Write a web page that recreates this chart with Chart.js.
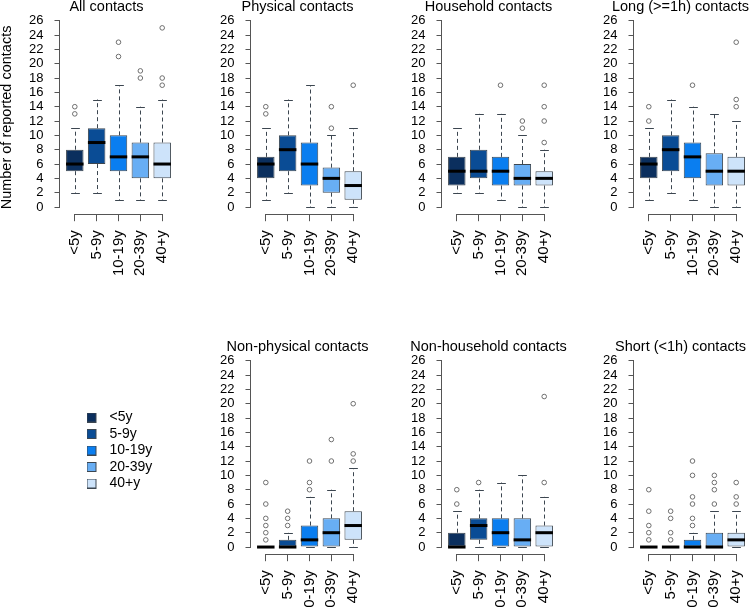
<!DOCTYPE html>
<html>
<head>
<meta charset="utf-8">
<script src="https://cdn.jsdelivr.net/npm/chart.js@4/dist/chart.umd.min.js"></script>
<style>
body{margin:0;width:750px;height:607px;overflow:hidden;background:#fff;position:relative}
canvas{position:absolute}
</style>
</head>
<body>
<canvas id="p1" width="213" height="290" style="left:0;top:0"></canvas>
<canvas id="p2" width="213" height="290" style="left:191px;top:0"></canvas>
<canvas id="p3" width="213" height="290" style="left:382px;top:0"></canvas>
<canvas id="p4" width="213" height="290" style="left:574px;top:0"></canvas>
<canvas id="p5" width="213" height="267" style="left:191px;top:340px"></canvas>
<canvas id="p6" width="213" height="267" style="left:382px;top:340px"></canvas>
<canvas id="p7" width="213" height="267" style="left:574px;top:340px"></canvas>
<canvas id="leg" width="240" height="95" style="left:84px;top:408px"></canvas>
<script>
var ageGroups = ["<5y", "5-9y", "10-19y", "20-39y", "40+y"];
var ageColors = ["#0b2f5e", "#0a4c95", "#0a7ef0", "#68aef4", "#cde3fa"];
var yTicks = [0, 2, 4, 6, 8, 10, 12, 14, 16, 18, 20, 22, 24, 26];

// [lower whisker, Q1, median, Q3, upper whisker] for each age group
var allStats = [[2, 5, 6, 8, 11], [2, 6, 9, 11, 15], [1, 5, 7, 10, 17], [1, 4, 7, 9, 14], [1, 4, 6, 9, 15]];
var allOut = [[13, 14], [], [21, 23], [18, 19], [17, 18, 25]];

var physStats = [[1, 4, 6, 7, 11], [2, 5, 8, 10, 15], [0, 3, 6, 9, 17], [0, 2, 4, 5.5, 10], [0, 1, 3, 5, 11]];
var physOut = [[13, 14], [], [], [11, 14], [17]];

var hhStats = [[2, 3, 5, 7, 11], [2, 4, 5, 8, 13], [1, 3, 5, 7, 13], [0, 3, 4, 6, 10], [0, 3, 4, 5, 8]];
var hhOut = [[], [], [17], [11, 12], [9, 12, 14, 17]];

var longStats = [[1, 4, 6, 7, 11], [2, 5, 8, 10, 15], [1, 4, 7, 9, 14], [0, 3, 5, 7.5, 13], [0, 3, 5, 7, 12]];
var longOut = [[12, 14], [], [17], [], [14, 15, 23]];

var nonPhysStats = [[0, 0, 0, 0, 0], [0, 0, 0, 1, 2], [0, 0, 1, 3, 7], [0, 0, 2, 4, 8], [0, 1, 3, 5, 11]];
var nonPhysOut = [[1, 2, 3, 4, 6, 9], [3, 4, 5], [8, 9, 12], [12, 15], [12, 13, 20]];

var nonHhStats = [[0, 0, 0, 2, 5], [0, 1, 3, 4, 8], [0, 0, 2, 4, 9], [0, 0, 1, 4, 10], [0, 0, 2, 3, 7]];
var nonHhOut = [[6, 8], [9], [], [], [9, 21]];

var shortStats = [[0, 0, 0, 0, 0], [0, 0, 0, 0, 0], [0, 0, 0, 1, 2], [0, 0, 0, 2, 5], [0, 0, 1, 2, 5]];
var shortOut = [[1, 2, 3, 5, 8], [1, 2, 4, 5], [3, 4, 6, 7, 10, 12], [6, 8, 9, 10], [6, 7, 9]];

var lineCol = "#3c4650";
Chart.defaults.font.family = '"Liberation Sans", Arial, sans-serif';
Chart.defaults.color = "#000";

// whiskers, staples, medians and the R-style axis lines
var boxExtras = {
    id: "boxExtras",
    afterDatasetsDraw: function (chart) {
        var ctx = chart.ctx;
        var y = chart.scales.y;
        var x = chart.scales.x;
        var stats = chart.data.datasets[0].stats;
        var meta = chart.getDatasetMeta(0);
        ctx.save();
        meta.data.forEach(function (bar, i) {
            var s = stats[i];
            var cx = Math.round(bar.x) + 0.5;
            var half = bar.width / 2;
            var cap = bar.width / 4;
            var yLo = y.getPixelForValue(s[0]);
            var yQ1 = y.getPixelForValue(s[1]);
            var yMed = y.getPixelForValue(s[2]);
            var yQ3 = y.getPixelForValue(s[3]);
            var yHi = y.getPixelForValue(s[4]);
            ctx.strokeStyle = lineCol;
            ctx.lineWidth = 1;
            ctx.setLineDash([4, 3]);
            ctx.beginPath();
            ctx.moveTo(cx, yQ3); ctx.lineTo(cx, yHi);
            ctx.moveTo(cx, yQ1); ctx.lineTo(cx, yLo);
            ctx.stroke();
            ctx.setLineDash([]);
            ctx.beginPath();
            ctx.moveTo(cx - cap, Math.round(yHi) + 0.5); ctx.lineTo(cx + cap, Math.round(yHi) + 0.5);
            ctx.moveTo(cx - cap, Math.round(yLo) + 0.5); ctx.lineTo(cx + cap, Math.round(yLo) + 0.5);
            ctx.stroke();
            ctx.strokeStyle = "#000";
            ctx.lineWidth = 3;
            ctx.beginPath();
            ctx.moveTo(bar.x - half, yMed); ctx.lineTo(bar.x + half, yMed);
            ctx.stroke();
        });
        ctx.strokeStyle = "#555";
        ctx.lineWidth = 1;
        ctx.beginPath();
        var ax = Math.round(y.right) - 0.5;
        ctx.moveTo(ax, y.getPixelForValue(yTicks[0]) + 0.5);
        ctx.lineTo(ax, y.getPixelForValue(yTicks[yTicks.length - 1]) - 0.5);
        var ay = Math.round(x.top) + 0.5;
        ctx.moveTo(x.getPixelForValue(1) - 0.5, ay);
        ctx.lineTo(x.getPixelForValue(ageGroups.length) + 0.5, ay);
        ctx.stroke();
        ctx.restore();
    }
};

function makePanel(id, title, stats, outliers, xHeight, yTitle) {
    var boxes = stats.map(function (s, i) { return {x: i + 1, y: [s[1], s[3]]}; });
    var pts = [];
    outliers.forEach(function (list, i) {
        list.forEach(function (v) { pts.push({x: i + 1, y: v}); });
    });
    return new Chart(document.getElementById(id), {
        type: "bar",
        data: {
            datasets: [{
                data: boxes,
                stats: stats,
                yAxisID: "y",
                backgroundColor: ageColors,
                borderColor: lineCol,
                borderWidth: 1,
                borderSkipped: false,
                barPercentage: 0.8,
                categoryPercentage: 1
            }, {
                type: "scatter",
                data: pts,
                yAxisID: "y",
                pointRadius: 2.3,
                pointBorderWidth: 1,
                pointBorderColor: "#6e6e6e",
                pointBackgroundColor: "rgba(0,0,0,0)"
            }]
        },
        options: {
            responsive: false,
            animation: false,
            events: [],
            layout: {padding: 0},
            scales: {
                x: {
                    type: "linear", min: 0.3, max: 5.7, bounds: "data", offset: false,
                    afterBuildTicks: function (axis) {
                        axis.ticks = ageGroups.map(function (g, i) { return {value: i + 1}; });
                    },
                    afterFit: function (s) {
                        s.height = xHeight;
                        s.paddingLeft = 0; s.paddingRight = 0;
                    },
                    ticks: {
                        autoSkip: false, minRotation: 90, maxRotation: 90, padding: 9,
                        font: {size: 15},
                        callback: function (v, i) { return ageGroups[i]; }
                    },
                    grid: {display: true, offset: false, drawOnChartArea: false, drawTicks: true, tickLength: 7, tickColor: "#555"},
                    border: {display: false}
                },
                y: {
                    type: "linear", min: -1, max: 26, bounds: "data",
                    afterBuildTicks: function (axis) {
                        axis.ticks = yTicks.map(function (v) { return {value: v}; });
                    },
                    afterFit: function (s) {
                        s.width = 59.5;
                        s.paddingTop = 0; s.paddingBottom = 0;
                    },
                    ticks: {autoSkip: false, padding: 11, font: {size: 13}},
                    grid: {display: true, drawOnChartArea: false, drawTicks: true, tickLength: 5, tickColor: "#555"},
                    border: {display: false},
                    title: {
                        display: !!yTitle, text: yTitle || "", padding: 0,
                        font: {size: 14.5, lineHeight: 1}
                    }
                },
                yPad: {
                    type: "linear", axis: "y", position: "right", display: true,
                    grid: {display: false}, border: {display: false}, ticks: {display: false},
                    afterFit: function (s) {
                        s.width = 35.5;
                        s.paddingTop = 0; s.paddingBottom = 0;
                    }
                }
            },
            plugins: {
                legend: {display: false},
                tooltip: {enabled: false},
                title: {
                    display: true, text: title,
                    font: {size: 14.5, weight: "normal", lineHeight: 1},
                    padding: {top: 0, bottom: 6.2}
                }
            }
        },
        plugins: [boxExtras]
    });
}

makePanel("p1", "All contacts", allStats, allOut, 75.8, "Number of reported contacts");
makePanel("p2", "Physical contacts", physStats, physOut, 75.8);
makePanel("p3", "Household contacts", hhStats, hhOut, 75.8);
makePanel("p4", "Long (>=1h) contacts", longStats, longOut, 75.8);
makePanel("p5", "Non-physical contacts", nonPhysStats, nonPhysOut, 52.8);
makePanel("p6", "Non-household contacts", nonHhStats, nonHhOut, 52.8);
makePanel("p7", "Short (<1h) contacts", shortStats, shortOut, 52.8);

// small square swatch with room after it, used as the legend point style
function swatch(color) {
    var c = document.createElement("canvas");
    c.width = 16; c.height = 10;
    var g = c.getContext("2d");
    g.fillStyle = color;
    g.fillRect(0, 0, 10, 10);
    g.strokeStyle = lineCol;
    g.lineWidth = 1;
    g.strokeRect(0.5, 0.5, 9, 9);
    return c;
}

// legend in the empty bottom-left slot
new Chart(document.getElementById("leg"), {
    type: "bar",
    data: {
        labels: [],
        datasets: ageGroups.map(function (g, i) {
            return {label: g, data: [], backgroundColor: ageColors[i], borderColor: lineCol,
                borderWidth: 1, pointStyle: swatch(ageColors[i])};
        })
    },
    options: {
        responsive: false,
        animation: false,
        events: [],
        scales: {x: {display: false}, y: {display: false}},
        plugins: {
            tooltip: {enabled: false},
            legend: {
                display: true, position: "left", align: "start", maxWidth: 120,
                labels: {
                    usePointStyle: true, pointStyleWidth: 16, boxHeight: 10,
                    padding: 2.5, font: {size: 14}, color: "#000"
                }
            }
        }
    }
});
</script>
</body>
</html>
